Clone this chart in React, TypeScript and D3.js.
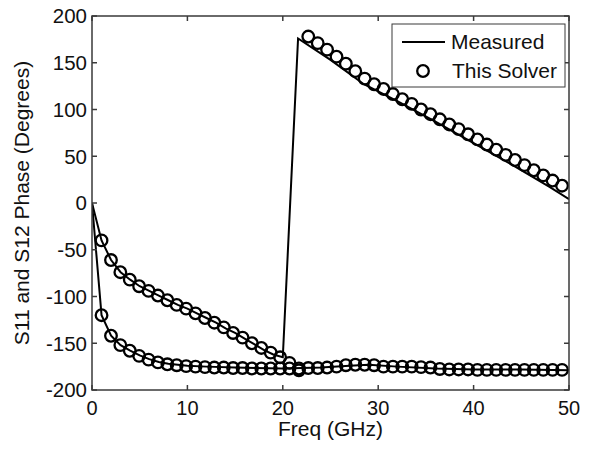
import React from "react";
import * as d3 from "d3";

// ---- Data ----
const xTicks = [0, 10, 20, 30, 40, 50];
const yTicks = [-200, -150, -100, -50, 0, 50, 100, 150, 200];

// Measured (solid line), upper trace (wraps at ~21 GHz)
const measuredUpperF = [0, 1, 2, 3, 4, 5, 6, 7, 8, 9, 10, 11, 12, 13, 14, 15, 16, 17, 18, 19, 20, 21.6, 25, 28.5, 32, 36, 40, 44, 48, 50];
const measuredUpperV = [0, -40, -61, -74, -82, -89, -94, -99, -104, -109, -113, -118, -123, -128, -134, -139, -145, -151, -157, -162, -165, 176, 153, 127, 109, 87, 64, 41, 17, 4];

// Measured (solid line), lower trace
const measuredLowerF = [0, 1, 2, 3, 4, 5, 6, 7, 8, 10, 12, 15, 20, 24, 27, 29, 32, 36, 40, 45, 50];
const measuredLowerV = [0, -120, -142, -152, -158, -163, -167, -170, -172, -174, -175, -176, -177, -176, -174, -173, -175, -177, -178, -178, -179];

// This Solver (circles)
const solverF = [1.0, 1.99, 2.97, 3.96, 4.94, 5.93, 6.91, 7.9, 8.88, 9.87, 10.85, 11.84, 12.82, 13.81, 14.79, 15.78, 16.76, 17.75, 18.73, 19.72, 20.7, 21.69, 22.67, 23.66, 24.64, 25.63, 26.61, 27.6, 28.58, 29.57, 30.55, 31.54, 32.52, 33.51, 34.49, 35.48, 36.46, 37.45, 38.43, 39.42, 40.4, 41.39, 42.37, 43.36, 44.34, 45.33, 46.31, 47.3, 48.28, 49.27];
const solverUpperV = [-40, -61, -74, -82, -89, -94, -99, -104, -109, -113, -118, -123, -128, -133, -139, -144, -150, -155, -160, -165, -171, -179, 178, 171, 164, 156.5, 149, 141, 133, 127, 122, 116.5, 111, 106, 100, 95, 89.5, 84, 79, 73.5, 68, 62.5, 57, 51.5, 46, 40.5, 35, 29.5, 24, 18.5];
const solverLowerV = [-120, -142, -152, -158, -163.5, -167.5, -170.5, -172.5, -173.5, -174.5, -175, -175.5, -176, -176, -176.5, -176.5, -177, -177, -177, -177, -177, -177, -176.5, -176.5, -176, -175, -173.5, -173, -173, -173.5, -175, -175, -175, -175, -175.5, -176, -177.5, -178, -178, -178, -178.5, -178.5, -178.5, -178.5, -178.5, -178.5, -178.5, -178.5, -178.5, -178.5];

const legendLabels = ["Measured", "This Solver"];
const xLabel = "Freq (GHz)";
const yLabel = "S11 and S12 Phase (Degrees)";

// ---- Layout ----
const W = 592, H = 449;
const L = 92, R = 569, T = 16, B = 390;
const FONT = "'Liberation Sans', Arial, Helvetica, sans-serif";
const AX = "#3a3a3a";
const CR = 5.8;
const CW = 2.3;

export default function App() {
  const x = d3.scaleLinear().domain([0, 50]).range([L, R]);
  const y = d3.scaleLinear().domain([-200, 200]).range([B, T]);
  const line = d3.line<[number, number]>().x(d => x(d[0])).y(d => y(d[1]));

  const upper: [number, number][] = measuredUpperF.map((f, i) => [f, measuredUpperV[i]]);
  const lower: [number, number][] = measuredLowerF.map((f, i) => [f, measuredLowerV[i]]);

  const tickLen = 5;

  return (
    <svg width={W} height={H} style={{ position: "fixed", left: 0, top: 0, background: "#fff" }} fontFamily={FONT}>
      <rect x={0} y={0} width={W} height={H} fill="#fff" />
      <defs>
        <clipPath id="plot">
          <rect x={L} y={T} width={R - L} height={B - T} />
        </clipPath>
      </defs>

      {/* data */}
      <g clipPath="url(#plot)">
        <path d={line(upper) || ""} fill="none" stroke="#000" strokeWidth={2} />
        <path d={line(lower) || ""} fill="none" stroke="#000" strokeWidth={2} />
        {solverF.map((f, i) => (
          <circle key={"u" + i} cx={x(f)} cy={y(solverUpperV[i])} r={CR} fill="none" stroke="#000" strokeWidth={CW} />
        ))}
        {solverF.map((f, i) => (
          <circle key={"l" + i} cx={x(f)} cy={y(solverLowerV[i])} r={CR} fill="none" stroke="#000" strokeWidth={CW} />
        ))}
      </g>

      {/* frame */}
      <rect x={L} y={T} width={R - L} height={B - T} fill="none" stroke={AX} strokeWidth={1.5} />

      {/* x ticks */}
      {xTicks.map(t => (
        <g key={"xt" + t}>
          <line x1={x(t)} x2={x(t)} y1={B} y2={B - tickLen} stroke={AX} strokeWidth={1.5} />
          <line x1={x(t)} x2={x(t)} y1={T} y2={T + tickLen} stroke={AX} strokeWidth={1.5} />
          <text x={x(t)} y={B + 25} textAnchor="middle" fontSize={20} fill="#111">{t}</text>
        </g>
      ))}

      {/* y ticks */}
      {yTicks.map(t => (
        <g key={"yt" + t}>
          <line x1={L} x2={L + tickLen} y1={y(t)} y2={y(t)} stroke={AX} strokeWidth={1.5} />
          <line x1={R} x2={R - tickLen} y1={y(t)} y2={y(t)} stroke={AX} strokeWidth={1.5} />
          <text x={L - 5} y={y(t)} dy="0.36em" textAnchor="end" fontSize={20.5} fill="#111">{t}</text>
        </g>
      ))}

      {/* axis labels */}
      <text x={(L + R) / 2} y={436} textAnchor="middle" fontSize={21} fill="#111">{xLabel}</text>
      <text transform={`translate(29, ${(T + B) / 2}) rotate(-90)`} textAnchor="middle" fontSize={21} fill="#111">{yLabel}</text>

      {/* legend */}
      <g>
        <rect x={392} y={24} width={173} height={63} fill="#fff" stroke={AX} strokeWidth={1} />
        <line x1={402} x2={445} y1={42} y2={42} stroke="#000" strokeWidth={2} />
        <text x={451} y={49} fontSize={21} fill="#111">{legendLabels[0]}</text>
        <circle cx={423} cy={71} r={CR} fill="none" stroke="#000" strokeWidth={CW} />
        <text x={452} y={78} fontSize={21} fill="#111">{legendLabels[1]}</text>
      </g>
    </svg>
  );
}
